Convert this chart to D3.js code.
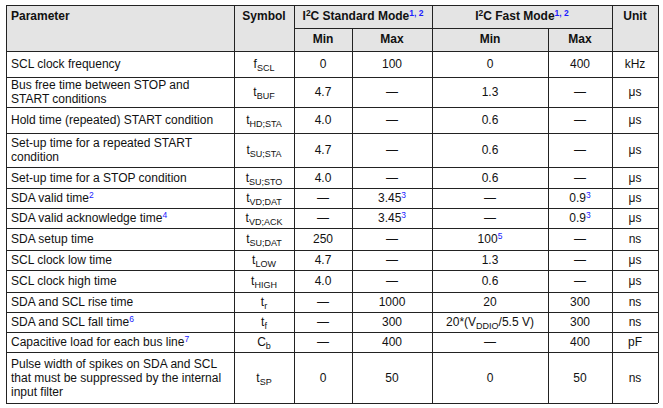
<!DOCTYPE html><html><head><meta charset="utf-8"><script src="https://cdn.jsdelivr.net/npm/d3@7"></script>
<style>body{margin:0;background:#fff}text{font-family:"Liberation Sans",Arial,sans-serif;font-size:12px;fill:#111}</style></head><body><svg id="c" width="663" height="408"></svg><script>
const colX=[6,234,294,352,432,548,612,658];
const rowY=[5,28,51,77,107,133,167,188,208,228,250,270,292,312,332,352,403];
const parameters=[["SCL clock frequency"],["Bus free time between STOP and","START conditions"],["Hold time (repeated) START condition"],["Set-up time for a repeated START","condition"],["Set-up time for a STOP condition"],["SDA valid time^{2}"],["SDA valid acknowledge time^{4}"],["SDA setup time"],["SCL clock low time"],["SCL clock high time"],["SDA and SCL rise time"],["SDA and SCL fall time^{6}"],["Capacitive load for each bus line^{7}"],["Pulse width of spikes on SDA and SCL","that must be suppressed by the internal","input filter"]];
const symbols=["f_{SCL}","t_{BUF}","t_{HD;STA}","t_{SU;STA}","t_{SU;STO}","t_{VD;DAT}","t_{VD;ACK}","t_{SU;DAT}","t_{LOW}","t_{HIGH}","t_{r}","t_{f}","C_{b}","t_{SP}"];
const stdMin=["0","4.7","4.0","4.7","4.0","—","—","250","4.7","4.0","—","—","—","0"];
const stdMax=["100","—","—","—","—","3.45^{3}","3.45^{3}","—","—","—","1000","300","400","50"];
const fastMin=["0","1.3","0.6","0.6","0.6","—","—","100^{5}","1.3","0.6","20","20*(V_{DDIO}/5.5 V)","—","0"];
const fastMax=["400","—","—","—","—","0.9^{3}","0.9^{3}","—","—","—","300","300","400","50"];
const units=["kHz","μs","μs","μs","μs","μs","μs","ns","μs","μs","ns","ns","pF","ns"];
const svg=d3.select("#c");
svg.append("rect").attr("x",colX[0]).attr("y",rowY[0]).attr("width",colX[7]-colX[0]).attr("height",rowY[2]-rowY[0]).attr("fill","#e4e4e4");
function rich(t,str,bold){
  const re=/([^_^~]+)|_\{([^}]*)\}|\^\{([^}]*)\}|~\{([^}]*)\}/g;let m,pend=0;
  const fw=bold?"bold":null;
  while((m=re.exec(str))){
    let s;
    if(m[1]){s=t.append("tspan").text(m[1]).attr("font-weight",fw).attr("dy",pend||null);pend=0;}
    else if(m[2]!==undefined){s=t.append("tspan").text(m[2]).attr("font-size","9px").attr("dy",3+pend);pend=-3;}
    else if(m[3]!==undefined){s=t.append("tspan").text(m[3]).attr("font-size","8.5px").attr("dy",-4+pend).attr("fill","#1a1aff").attr("font-weight",fw);pend=4;}
    else {s=t.append("tspan").text(m[4]).attr("font-size","8.5px").attr("dy",-4+pend).attr("font-weight",fw);pend=4;}
  }
}
function cell(x,y,str,anchor,bold){const t=svg.append("text").attr("x",x).attr("y",y).attr("text-anchor",anchor);rich(t,str,bold);return t;}
const cx=i=>(colX[i]+colX[i+1])/2;
cell(11,rowY[0]+15,"Parameter","start",true);
cell(cx(1),rowY[0]+15,"Symbol","middle",true);
cell((colX[2]+colX[4])/2,rowY[0]+15,"I~{2}C Standard Mode^{1, 2}","middle",true);
cell((colX[4]+colX[6])/2,rowY[0]+15,"I~{2}C Fast Mode^{1, 2}","middle",true);
cell(cx(6),rowY[0]+15,"Unit","middle",true);
["Min","Max","Min","Max"].forEach((h,i)=>cell(cx(i+2),rowY[1]+15,h,"middle",true));
parameters.forEach((p,r)=>{
  const y0=rowY[r+2],y1=rowY[r+3],mid=(y0+y1)/2;
  const n=p.length,lh=14;
  p.forEach((l,k)=>cell(11,mid+4-(n-1)*lh/2+k*lh,l,"start",false));
  [symbols[r],stdMin[r],stdMax[r],fastMin[r],fastMax[r],units[r]].forEach((v,i)=>cell(cx(i+1),mid+4,v,"middle",false));
});
const g=svg.append("g").attr("stroke","#222").attr("stroke-width",1);
rowY.forEach((y,i)=>{const x0=(i==1)?colX[2]:colX[0],x1=(i==1)?colX[6]:colX[7];g.append("line").attr("x1",x0).attr("x2",x1).attr("y1",y+.5).attr("y2",y+.5);});
colX.forEach((x,i)=>{const top=(i==3||i==5)?rowY[1]:rowY[0];g.append("line").attr("x1",x+.5).attr("x2",x+.5).attr("y1",top).attr("y2",rowY[rowY.length-1]);});
</script></body></html>
